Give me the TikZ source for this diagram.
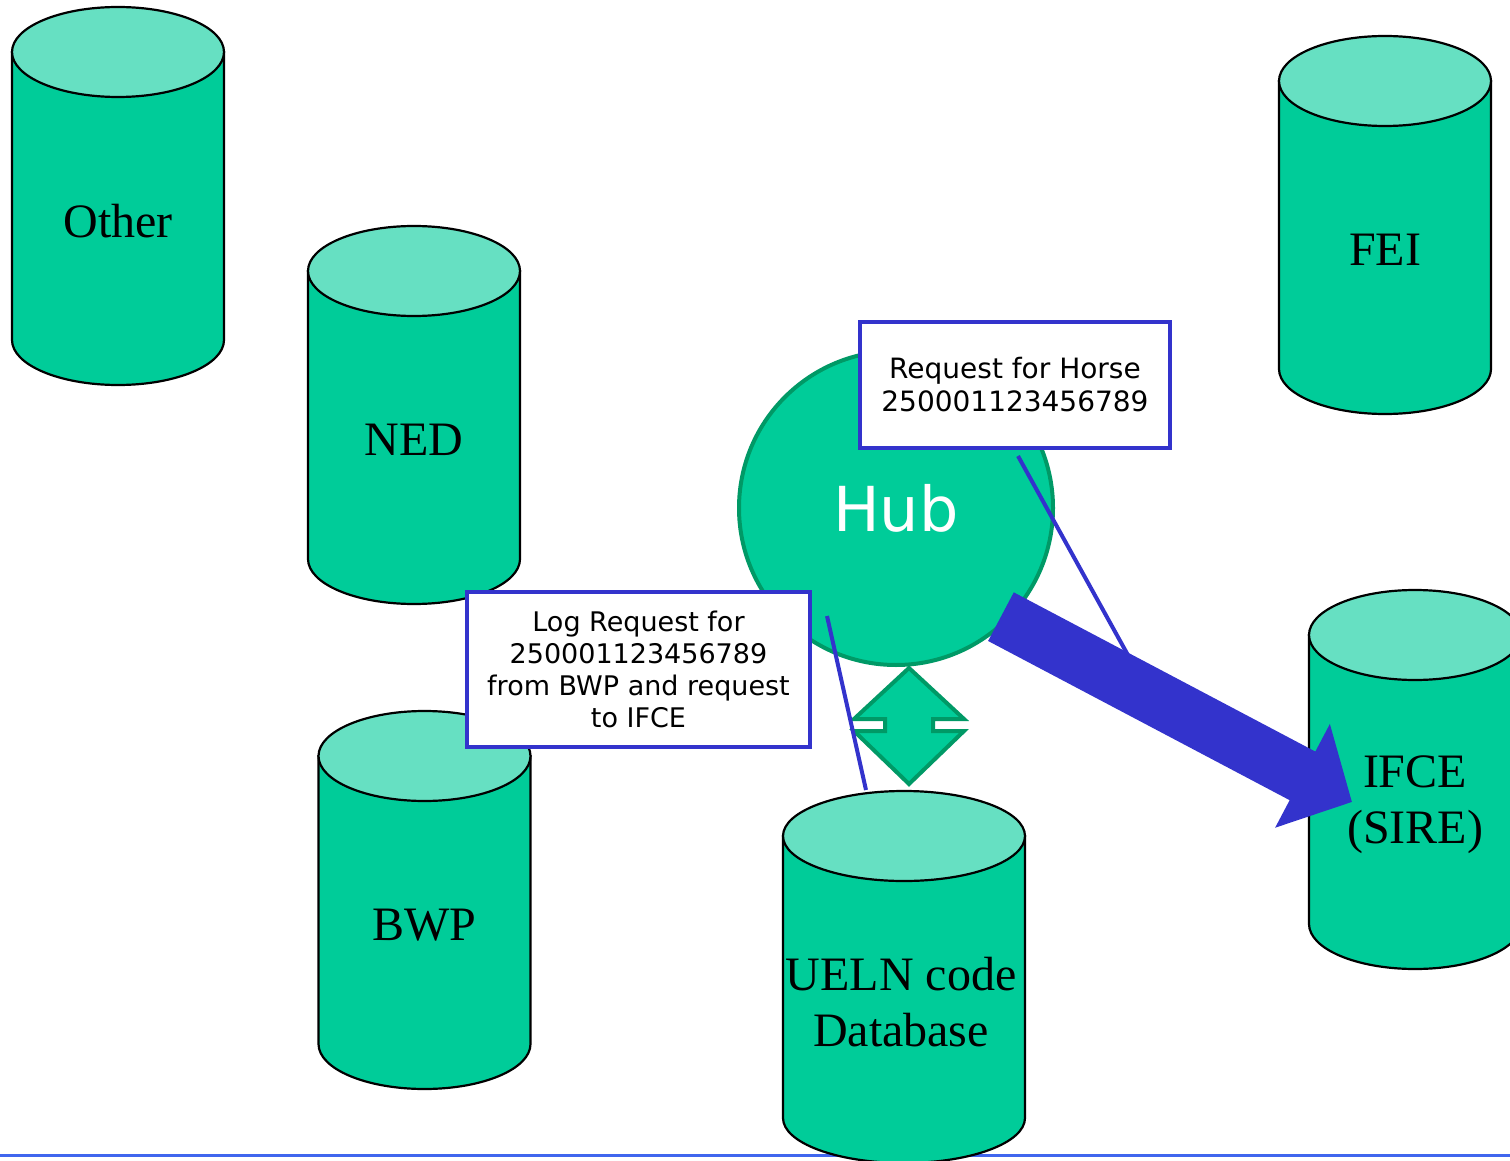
\documentclass[tikz,border=0pt]{standalone}
\usepackage{fontspec}
\setmainfont{Liberation Serif}
\newfontfamily\notefont{DejaVu Sans}
\usepackage{xcolor}
\usepackage{tikz}
\usetikzlibrary{calc}
\usetikzlibrary{positioning}
\usetikzlibrary{arrows.meta}
\usetikzlibrary{shapes}
\definecolor{dbbody}{RGB}{0,204,153}
\definecolor{dbtop}{RGB}{102,224,194}
\definecolor{hubline}{RGB}{0,153,102}
\definecolor{callblue}{RGB}{51,51,204}
\definecolor{ruleblue}{RGB}{64,102,238}
\begin{document}
\begin{tikzpicture}[x=1pt,y=-1pt,
      db body/.style={fill=dbbody,draw=black,line width=2.2pt},
      db top/.style={fill=dbtop,draw=black,line width=2.2pt},
      db text/.style={font=\fontsize{48}{56}\selectfont,align=center},
      hub style/.style={circle,draw=hubline,fill=dbbody,line width=4pt,
        minimum size=314,text=white,font=\notefont\fontsize{62}{70}\selectfont},
      note style/.style={rectangle,draw=callblue,fill=white,line width=4pt,
        align=center,inner sep=0pt,font=\notefont\fontsize{27}{32}\selectfont},
      link style/.style={draw=hubline,fill=dbbody,line width=4pt},
      pointer/.style={draw=callblue,line width=4pt},
      big arrow/.style={draw=callblue,line width=55pt,
        -{Triangle[length=56pt,width=114pt]}}
      ]
      \useasboundingbox (0,0) rectangle (1510,1161);
      \draw[ruleblue,line width=3pt] (0,1155) -- (1510,1155);
      % data bases
      \foreach \n/\cx/\ct/\cb/\rx/\dx/\t in {other/118/52/340/106/0/Other,
          ned/414/271/559/106/0/NED, bwp/424.5/756/1044/106/0/BWP,
          fei/1385/81/369/106/0/FEI, ifce/1415/635/924/106/0/{IFCE\\(SIRE)},
          ueln/904/836/1118/121/-3/{UELN code\\Database}}{
        \path[db body] (\cx-\rx,\ct) -- (\cx-\rx,\cb)
          arc[start angle=180,end angle=360,x radius=\rx pt,y radius=45pt]
          -- (\cx+\rx,\ct) -- cycle;
        \path[db top] (\cx,\ct) ellipse[x radius=\rx pt,y radius=45pt];
        \node[db text] (\n) at (\cx+\dx,\ct/2+\cb/2+25) {\t};
      }
      % hub and links
      \node[hub style] (hub) at (896,508) {Hub};
      \draw[link style] ($(hub.south)+(13,1)$) -- ++(55,51) -- ++(-31,0)
        -- ++(0,12) -- ++(31,0) -- ++(-55,53) -- ++(-55,-53) -- ++(31,0)
        -- ++(0,-12) -- ++(-31,0) -- cycle;
      \coordinate (ifcetip) at (1352,802);
      \draw[big arrow] ($(hub.center)!0.95!(hub.-46)$) -- (ifcetip);
      % callouts
      \node[note style,minimum width=310,minimum height=126,
        font=\notefont\fontsize{28}{33}\selectfont] (req) at (1015,385)
        {Request for Horse\\250001123456789};
      \coordinate (reqtip) at (1145,686);
      \draw[pointer] (req.south) ++(3,6) -- (reqtip);
      \node[note style,minimum width=343,minimum height=155] (log) at (638.5,669.5)
        {Log Request for\\250001123456789\\from BWP and request\\to IFCE};
      \coordinate (logtip) at (866,790);
      \draw[pointer] (log.north east) ++(15,26) -- (logtip);
    \end{tikzpicture}
\end{document}
